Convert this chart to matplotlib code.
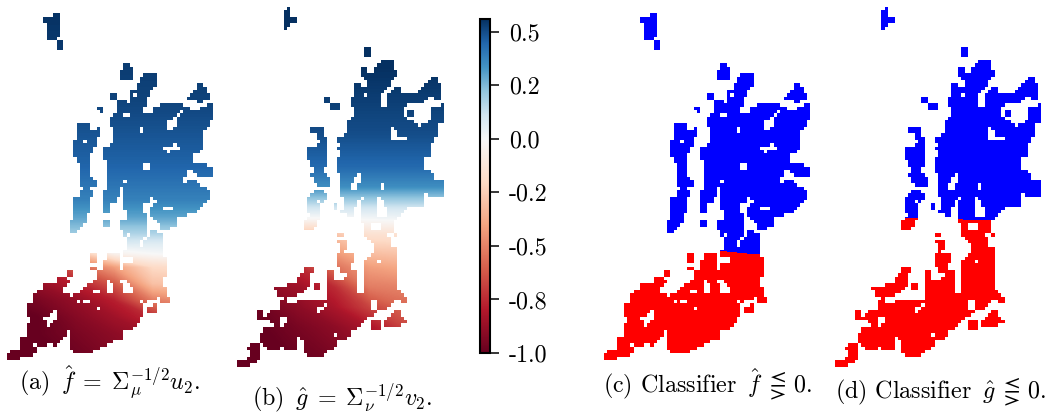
import numpy as np
import matplotlib
matplotlib.use('Agg')
import matplotlib.pyplot as plt
from matplotlib.colors import ListedColormap, Normalize
from matplotlib.cm import ScalarMappable
from matplotlib.path import Path

plt.rcParams['font.family'] = ['cmr10', 'DejaVu Sans']
plt.rcParams['mathtext.fontset'] = 'cm'
plt.rcParams['axes.unicode_minus'] = False
plt.rcParams['axes.formatter.use_mathtext'] = True

W, H = 1053, 412
UNIT = 3.0   # map coordinates are in thirds of a pixel
CELL = 10    # size of one map cell in those units
GROW = 3     # coast reach when testing a cell

tick_values = [-1.0, -0.75, -0.5, -0.25, 0.0, 0.25, 0.5]
tick_labels = ['-1.0', '-0.8', '-0.5', '-0.2', '0.0', '0.2', '0.5']
vmin, vmax = -1.0, 0.56

captions = [r'(a) $\,\hat{f}\;=\;\Sigma_{\mu}^{-1/2}u_2.$',
            r'(b) $\,\hat{g}\;=\;\Sigma_{\nu}^{-1/2}v_2.$',
            r'(c) Classifier $\,\hat{f}\;\lesseqgtr\,0.$',
            r'(d) Classifier $\,\hat{g}\;\lesseqgtr\,0.$']

# coastline of the first region
land_a = [
    [(160,42),(178,40),(178,100),(165,105),(165,118),(143,118),(143,100),(148,85),(140,70),(135,58),(160,52)],
    [(172,122),(190,118),(190,130),(188,143),(172,143),(172,132)],
    [(378,195),(390,192),(396,215),(392,235),(368,235),(368,215)],
    [(335,283),(345,283),(345,295),(335,295)],
    [(297,320),(310,320),(312,340),(300,340)],
    [(601,250),(612,262),(630,300),(600,303),(568,298),(590,275)],
    [(555,322),(567,322),(567,332),(555,332)],
    [(441,220),(467,218),(469,245),(456,262),(441,292),(431,320),(424,335),(424,378),(414,378),(414,398),(432,398),
     (432,345),(464,340),(464,320),(519,315),(544,308),(545,320),(530,335),(515,350),(505,370),(488,390),(510,395),
     (530,385),(535,360),(545,345),(560,335),(575,330),(590,335),(610,320),(632,315),(632,360),(612,390),(604,410),
     (604,440),(612,445),(595,455),(575,460),(575,485),(595,495),(636,500),(636,522),(595,525),(575,500),(555,505),
     (550,540),(555,570),(570,540),(600,560),(625,570),(625,590),(605,610),(580,635),(530,650),(525,680),(490,685),
     (460,650),(455,630),(475,610),(460,590),(452,580),(447,605),(452,610),(431,602),(427,630),(440,665),(434,705),
     (420,720),(415,765),(369,765),(369,750),(389,750),(384,715),(394,700),(389,660),(379,630),(374,600),(379,580),
     (374,560),(394,525),(384,520),(369,540),(354,580),(344,605),(324,610),(324,640),(309,635),(311,610),(319,570),
     (329,510),(319,480),(309,445),(339,435),(344,390),(354,380),(337,375),(334,360),(349,345),(354,330),(349,305),
     (374,302),(389,320),(394,280),(414,265),(424,240)],
    [(234,375),(267,370),(269,390),(264,405),(279,395),(294,385),(294,405),(279,440),(269,470),(267,500),(271,530),
     (284,540),(284,555),(259,565),(244,555),(239,525),(244,500),(234,480),(224,460),(224,430),(234,415),(229,390)],
    [(240,575),(275,575),(265,625),(255,665),(235,678),(222,700),(212,695),(217,665),(225,640),(218,605),(238,590)],
    [(309,662),(326,662),(326,680),(309,680)],
    [(367,662),(384,660),(384,690),(372,702),(366,680)],
    [(452,692),(464,692),(464,706),(452,706)],
    [(267,762),(283,762),(287,790),(273,790)],
    [(274,800),(288,800),(288,810),(274,810)],
    [(204,812),(216,812),(216,822),(204,822)],
    [(404,790),(409,765),(424,755),(432,735),(445,712),(470,712),(484,703),(488,760),(495,790),(489,855),(496,885),
     (470,892),(450,895),(425,905),(429,930),(424,940),(414,965),(394,985),(374,985),(364,1015),(344,1020),(309,1035),
     (259,1060),(224,1055),(209,1040),(219,1020),(214,990),(199,988),(194,1010),(164,1035),(149,1020),(139,1035),
     (119,1035),(94,1015),(77,985),(99,960),(84,940),(81,915),(94,915),(104,930),(109,915),(106,880),(134,870),
     (134,850),(169,850),(174,835),(194,833),(206,848),(184,865),(184,885),(224,890),(249,870),(267,858),(289,840),
     (289,815),(314,810),(321,765),(354,762),(356,810),(374,815),(377,792)],
    [(444,922),(471,915),(469,930),(454,942),(442,940)],
    [(484,893),(506,893),(506,910),(486,910)],
    [(19,1070),(39,1050),(59,1060),(59,1040),(64,1012),(84,1012),(104,1050),(94,1065),(59,1072),(19,1082)],
]
holes_a = [
    [(364,335),(372,335),(378,342),(390,342),(390,353),(366,353)],
    [(399,282),(409,282),(409,292),(399,292)],
    [(426,495),(449,492),(449,508),(426,508)],
    [(494,440),(534,432),(536,448),(505,458),(494,450)],
    [(504,360),(514,360),(514,375),(504,375)],
    [(489,615),(524,615),(524,628),(495,628)],
    [(250,420),(262,420),(262,432),(250,432)],
    [(364,835),(377,840),(404,872),(394,880),(367,875)],
    [(327,820),(334,820),(336,878),(319,880),(314,868),(327,840)],
    [(274,865),(304,865),(304,878),(279,875)],
    [(226,900),(239,900),(239,910),(226,910)],
    [(252,895),(267,895),(267,910),(252,910)],
    [(294,915),(304,915),(304,925),(294,925)],
    [(159,932),(172,938),(172,958),(157,960),(154,980),(144,975),(134,955),(154,945)],
    [(419,898),(427,898),(427,906),(419,906)],
]

# coastline of the second region
land_b = [
    [(165,30),(178,25),(178,50),(197,60),(180,70),(165,88),(157,85),(165,65),(157,45)],
    [(405,147),(416,147),(416,168),(408,165)],
    [(285,293),(300,293),(300,306),(285,306)],
    [(305,312),(323,312),(323,325),(305,325)],
    [(243,385),(256,385),(256,397),(243,397)],
    [(531,330),(544,330),(544,342),(531,342)],
    [(461,180),(491,178),(488,205),(496,225),(478,245),(468,262),(450,280),(443,310),(446,358),(454,358),(456,325),
     (478,315),(472,285),(491,265),(506,265),(506,280),(541,278),(566,285),(566,270),(586,260),(611,235),(631,270),
     (631,290),(611,295),(601,280),(571,305),(536,305),(511,335),(516,350),(551,370),(561,382),(601,365),(601,330),
     (616,325),(641,315),(641,360),(616,370),(621,395),(596,440),(601,470),(576,472),(576,495),(561,525),(591,512),
     (611,540),(641,540),(641,585),(596,585),(566,565),(581,610),(556,620),(526,620),(501,645),(491,660),(478,680),
     (495,705),(478,712),(472,740),(496,745),(496,840),(501,875),(531,895),(531,910),(506,898),(486,900),(466,930),
     (436,930),(421,945),(406,950),(391,970),(371,985),(351,990),(361,1005),(346,1015),(326,1015),(306,1040),
     (271,1065),(236,1065),(221,1045),(221,1020),(211,1008),(191,1005),(201,1030),(191,1045),(161,1050),(156,1030),
     (141,1045),(121,1045),(91,1015),(91,1005),(106,1005),(106,980),(121,978),(141,995),(136,970),(106,952),(121,935),
     (146,930),(156,930),(154,910),(166,890),(151,890),(131,860),(156,860),(201,855),(206,835),(234,800),(244,800),
     (236,850),(221,865),(211,880),(171,885),(171,915),(196,915),(221,900),(234,898),(291,898),(291,815),(306,815),
     (311,840),(336,840),(326,880),(341,850),(361,810),(376,810),(376,845),(371,875),(401,885),(406,860),(401,815),
     (411,775),(431,765),(436,735),(421,715),(401,710),(401,680),(396,655),(392,615),(408,590),(391,578),(375,620),
     (345,630),(341,590),(331,570),(326,480),(336,465),(326,445),(346,435),(328,430),(328,415),(346,410),(356,370),
     (376,345),(366,315),(366,295),(381,285),(371,250),(386,250),(391,265),(411,265),(411,240),(394,220),(394,200),
     (406,205),(411,225),(431,220),(441,200)],
    [(280,410),(292,420),(290,480),(278,500),(275,520),(300,545),(298,560),(265,555),(247,530),(255,505),(233,470),
     (233,445),(260,440),(275,425),(260,405),(262,385),(282,385)],
    [(256,575),(276,570),(284,590),(281,605),(266,615),(268,652),(262,660),(246,682),(226,690),(224,670),(236,655),
     (246,650),(231,625),(228,600),(241,590)],
    [(311,610),(319,610),(319,625),(311,625)],
    [(336,628),(346,628),(346,638),(336,638)],
    [(354,633),(364,633),(364,645),(354,645)],
    [(321,698),(336,698),(336,705),(321,705)],
    [(326,720),(351,720),(348,740),(334,765),(366,762),(368,785),(356,792),(358,820),(331,820),(326,780),(331,745)],
    [(251,850),(268,850),(268,870),(251,870)],
    [(79,930),(94,930),(96,960),(84,960)],
    [(421,985),(431,960),(446,958),(444,985)],
    [(466,960),(501,935),(511,955),(526,960),(511,972),(466,975)],
    [(24,1085),(51,1082),(66,1065),(56,1045),(71,1032),(91,1038),(84,1070),(66,1090),(24,1098)],
]
holes_b = [
    [(381,515),(394,520),(394,545),(381,555),(381,570),(354,570),(366,545),(376,525)],
    [(449,552),(459,552),(459,565),(449,565)],
    [(436,585),(450,585),(466,620),(466,650),(436,650)],
    [(399,278),(409,278),(409,290),(399,290)],
    [(479,383),(494,385),(496,405),(531,405),(528,420),(491,425),(481,410)],
    [(553,405),(566,405),(566,413),(553,413)],
    [(256,600),(271,600),(271,608),(256,608)],
    [(421,672),(451,672),(451,692),(421,692)],
    [(471,700),(491,700),(491,712),(471,712)],
    [(438,778),(448,778),(448,785),(438,785)],
    [(424,900),(436,900),(436,925),(420,925)],
    [(256,930),(296,905),(296,912),(266,940)],
    [(146,945),(171,945),(171,965),(156,985),(146,975)],
    [(313,1003),(323,1003),(323,1013),(313,1013)],
]

# eigenfunction values, on a coarse set of nodes
nodes_x_a = [0, 115, 230, 345, 460, 575, 690]
nodes_y_a = [0, 300, 500, 600, 650, 700, 730, 760, 800, 850, 900, 950, 1000, 1110]
field_a = [
    [0.56, 0.56, 0.56, 0.56, 0.56, 0.56, 0.56],
    [0.52, 0.52, 0.52, 0.52, 0.52, 0.52, 0.52],
    [0.45, 0.45, 0.45, 0.45, 0.45, 0.45, 0.45],
    [0.38, 0.38, 0.38, 0.38, 0.38, 0.38, 0.38],
    [0.30, 0.30, 0.30, 0.30, 0.30, 0.30, 0.30],
    [0.20, 0.20, 0.20, 0.17, 0.17, 0.17, 0.17],
    [0.10, 0.10, 0.10, 0.08, 0.07, 0.07, 0.07],
    [-0.60, -0.50, -0.30, -0.05, 0.00, 0.02, 0.02],
    [-0.85, -0.80, -0.60, -0.42, -0.20, -0.18, -0.18],
    [-0.95, -0.88, -0.78, -0.62, -0.30, -0.28, -0.28],
    [-1.00, -0.95, -0.88, -0.78, -0.52, -0.45, -0.45],
    [-1.00, -1.00, -0.92, -0.85, -0.75, -0.60, -0.60],
    [-1.00, -1.00, -0.95, -0.90, -0.85, -0.80, -0.80],
    [-1.00, -1.00, -1.00, -0.95, -0.90, -0.90, -0.90],
]
nodes_x_b = [0, 105, 210, 315, 420, 525, 660]
nodes_y_b = [0, 200, 400, 500, 560, 600, 630, 655, 700, 800, 860, 920, 980, 1110]
field_b = [
    [0.56, 0.56, 0.56, 0.56, 0.56, 0.56, 0.56],
    [0.56, 0.56, 0.56, 0.56, 0.56, 0.56, 0.56],
    [0.50, 0.50, 0.50, 0.50, 0.50, 0.50, 0.50],
    [0.44, 0.44, 0.44, 0.44, 0.44, 0.44, 0.44],
    [0.35, 0.35, 0.35, 0.35, 0.35, 0.35, 0.35],
    [0.20, 0.20, 0.20, 0.20, 0.20, 0.20, 0.20],
    [0.08, 0.08, 0.08, 0.08, 0.08, 0.08, 0.08],
    [-0.01, -0.01, -0.01, -0.01, 0.01, 0.02, 0.02],
    [-0.30, -0.30, -0.30, -0.28, -0.15, -0.15, -0.15],
    [-0.85, -0.80, -0.75, -0.55, -0.42, -0.38, -0.38],
    [-0.95, -0.90, -0.85, -0.75, -0.52, -0.50, -0.50],
    [-1.00, -0.97, -0.90, -0.82, -0.68, -0.58, -0.58],
    [-1.00, -1.00, -0.95, -0.90, -0.82, -0.68, -0.68],
    [-1.00, -1.00, -1.00, -0.97, -0.92, -0.80, -0.80],
]

# RdBu with its white centre moved to zero
frac = -vmin / (vmax - vmin)
n_red = int(1024 * frac)
rdbu = plt.get_cmap('RdBu').resampled(1024)
shifted = ListedColormap(rdbu(np.r_[np.linspace(0, 0.5, n_red), np.linspace(0.5, 1, 1024 - n_red)]))
norm = Normalize(vmin, vmax)


def land_mask(land, holes, width, height):
    """Which map cells lie on land"""
    xc = np.arange(CELL / 2, width + CELL, CELL)
    yc = np.arange(CELL / 2, height + CELL, CELL)
    xx, yy = np.meshgrid(xc, yc)
    pts = np.c_[xx.ravel(), yy.ravel()]
    inside = np.zeros(len(pts), dtype=bool)
    for ring in land:
        path = Path(ring)
        for dx, dy in [(0, 0), (-GROW, -GROW), (GROW, -GROW), (-GROW, GROW), (GROW, GROW)]:
            inside |= path.contains_points(pts + (dx, dy))
    for ring in holes:
        inside &= ~Path(ring).contains_points(pts)
    return inside.reshape(xx.shape)


def draw_map(fig, left, land, holes, nx, ny, field, classifier=False):
    width, height = nx[-1], ny[-1]
    ax = fig.add_axes([left / W, 1 - height / UNIT / H, width / UNIT / W, height / UNIT / H])
    if classifier:
        ax.contourf(nx, ny, field, levels=[vmin, 0, vmax], colors=['#ff0000', '#0000ff'])
    else:
        ax.contourf(nx, ny, field, levels=np.linspace(vmin, vmax, 625), cmap=shifted, norm=norm,
                    antialiased=False)
    # white sheet with the land cut out
    mask = land_mask(land, holes, width, height)
    sheet = np.ones(mask.shape + (4,))
    sheet[..., 3] = ~mask
    ax.imshow(sheet, extent=(0, mask.shape[1] * CELL, mask.shape[0] * CELL, 0),
              interpolation='nearest', aspect='auto', zorder=3)
    ax.set_xlim(0, width)
    ax.set_ylim(height, 0)
    ax.axis('off')
    return ax


fig = plt.figure(figsize=(W / 100, H / 100), dpi=100)

draw_map(fig, 0, land_a, holes_a, nodes_x_a, nodes_y_a, field_a)
draw_map(fig, 230, land_b, holes_b, nodes_x_b, nodes_y_b, field_b)
draw_map(fig, 597, land_a, holes_a, nodes_x_a, nodes_y_a, field_a, classifier=True)
draw_map(fig, 828, land_b, holes_b, nodes_x_b, nodes_y_b, field_b, classifier=True)

cax = fig.add_axes([479.5 / W, 1 - 353 / H, 10.5 / W, 334 / H])
cbar = fig.colorbar(ScalarMappable(norm=norm, cmap=shifted), cax=cax)
cbar.set_ticks(tick_values)
cbar.set_ticklabels(tick_labels)
cbar.outline.set_linewidth(1.5)
cax.tick_params(length=6.5, width=1.1, pad=7, labelsize=17.3)

fig.text(19 / W, 1 - 390 / H, captions[0], fontsize=17.3, va='baseline')
fig.text(252 / W, 1 - 405 / H, captions[1], fontsize=17.3, va='baseline')
fig.text(603 / W, 1 - 393 / H, captions[2], fontsize=17.3, va='baseline')
fig.text(835 / W, 1 - 398 / H, captions[3], fontsize=17.3, va='baseline')

fig.savefig('out.png', dpi=100)
